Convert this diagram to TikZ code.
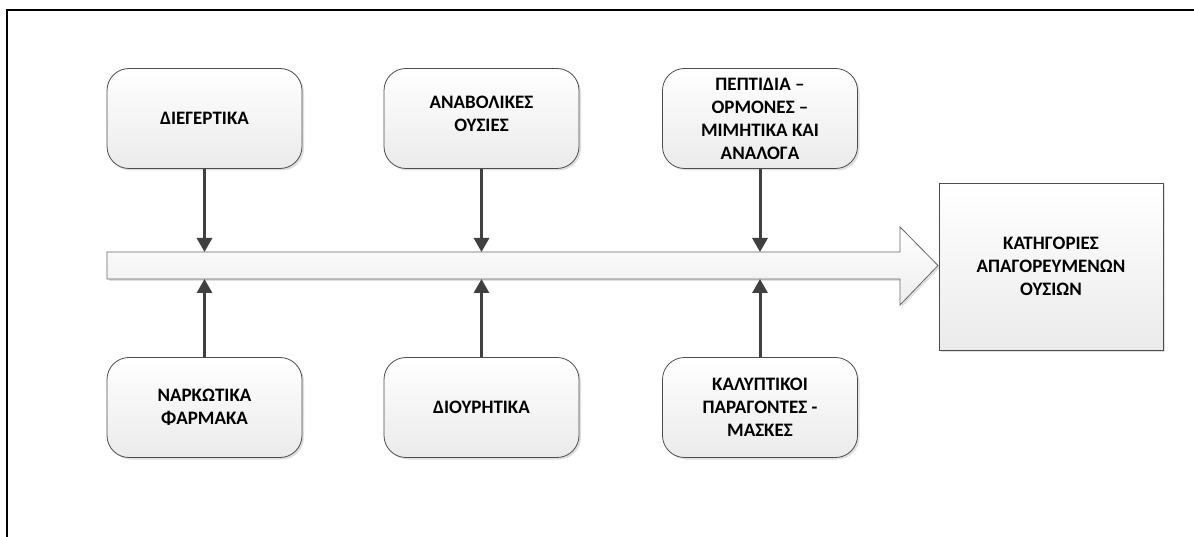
\documentclass[tikz,border=0pt]{standalone}
\usepackage{fontspec}
\setmainfont{Carlito}[BoldFont={Carlito Bold}]
\usetikzlibrary{arrows.meta,shadows}
\begin{document}
\begin{tikzpicture}[x=1pt,y=-1pt,
  catbox/.style={draw=black!70,line width=0.8pt,rounded corners=22pt,
    minimum width=195pt,minimum height=100pt,align=center,text=black,
    top color=white,bottom color=black!8,
    font=\bfseries\fontsize{19}{23}\selectfont,
    drop shadow={shadow xshift=2pt,shadow yshift=-2pt,fill=black!12,opacity=1}},
  goalbox/.style={draw=black!70,line width=0.8pt,
    minimum width=224pt,minimum height=167pt,align=center,text=black,
    top color=white,bottom color=black!8,
    font=\bfseries\fontsize{19}{23}\selectfont,
    drop shadow={shadow xshift=2pt,shadow yshift=-2pt,fill=black!12,opacity=1}},
  conn/.style={draw=black!75,line width=3pt,
    -{Triangle[width=15pt,length=14pt]}},
  axisarrow/.style={draw=black!60,line width=0.8pt,top color=white,bottom color=black!7,
    drop shadow={shadow xshift=2pt,shadow yshift=-2pt,fill=black!12,opacity=1}}
]
\useasboundingbox (0,0) rectangle (1194,537);
\fill[white] (0,0) rectangle (1194,537);
% frame (top and left visible)
\draw[line width=2pt,black] (7,537) -- (7,10) -- (1194,10);

% big horizontal arrow
\path[axisarrow] (107,252) -- (900,252) -- (900,227) -- (938,265.5) -- (900,305)
  -- (900,279) -- (107,279) -- cycle;

% goal box
\node[goalbox] (goal) at (1051,266.5) {ΚΑΤΗΓΟΡΙΕΣ\\ΑΠΑΓΟΡΕΥΜΕΝΩΝ\\ΟΥΣΙΩΝ};

% top boxes
\node[catbox] (t1) at (204.5,118.5) {ΔΙΕΓΕΡΤΙΚΑ};
\node[catbox] (t2) at (481.5,118.5) {ΑΝΑΒΟΛΙΚΕΣ\\ΟΥΣΙΕΣ\rule[-9pt]{0pt}{0pt}};
\node[catbox] (t3) at (760,118.5) {ΠΕΠΤΙΔΙΑ –\\ΟΡΜΟΝΕΣ –\\ΜΙΜΗΤΙΚΑ ΚΑΙ\\ΑΝΑΛΟΓΑ};

% bottom boxes
\node[catbox] (b1) at (204.5,407.5) {ΝΑΡΚΩΤΙΚΑ\\ΦΑΡΜΑΚΑ};
\node[catbox] (b2) at (481.5,407.5) {ΔΙΟΥΡΗΤΙΚΑ};
\node[catbox] (b3) at (760,407.5) {ΚΑΛΥΠΤΙΚΟΙ\\ΠΑΡΑΓΟΝΤΕΣ -\\ΜΑΣΚΕΣ};

% attachment points on the big arrow
\coordinate (a1t) at (204.5,252);
\coordinate (a2t) at (481.5,252);
\coordinate (a3t) at (760,252);
\coordinate (a1b) at (204.5,279);
\coordinate (a2b) at (481.5,279);
\coordinate (a3b) at (760,279);

\draw[conn] (t1.south) -- (a1t);
\draw[conn] (t2.south) -- (a2t);
\draw[conn] (t3.south) -- (a3t);
\draw[conn] (b1.north) -- (a1b);
\draw[conn] (b2.north) -- (a2b);
\draw[conn] (b3.north) -- (a3b);
\end{tikzpicture}
\end{document}
